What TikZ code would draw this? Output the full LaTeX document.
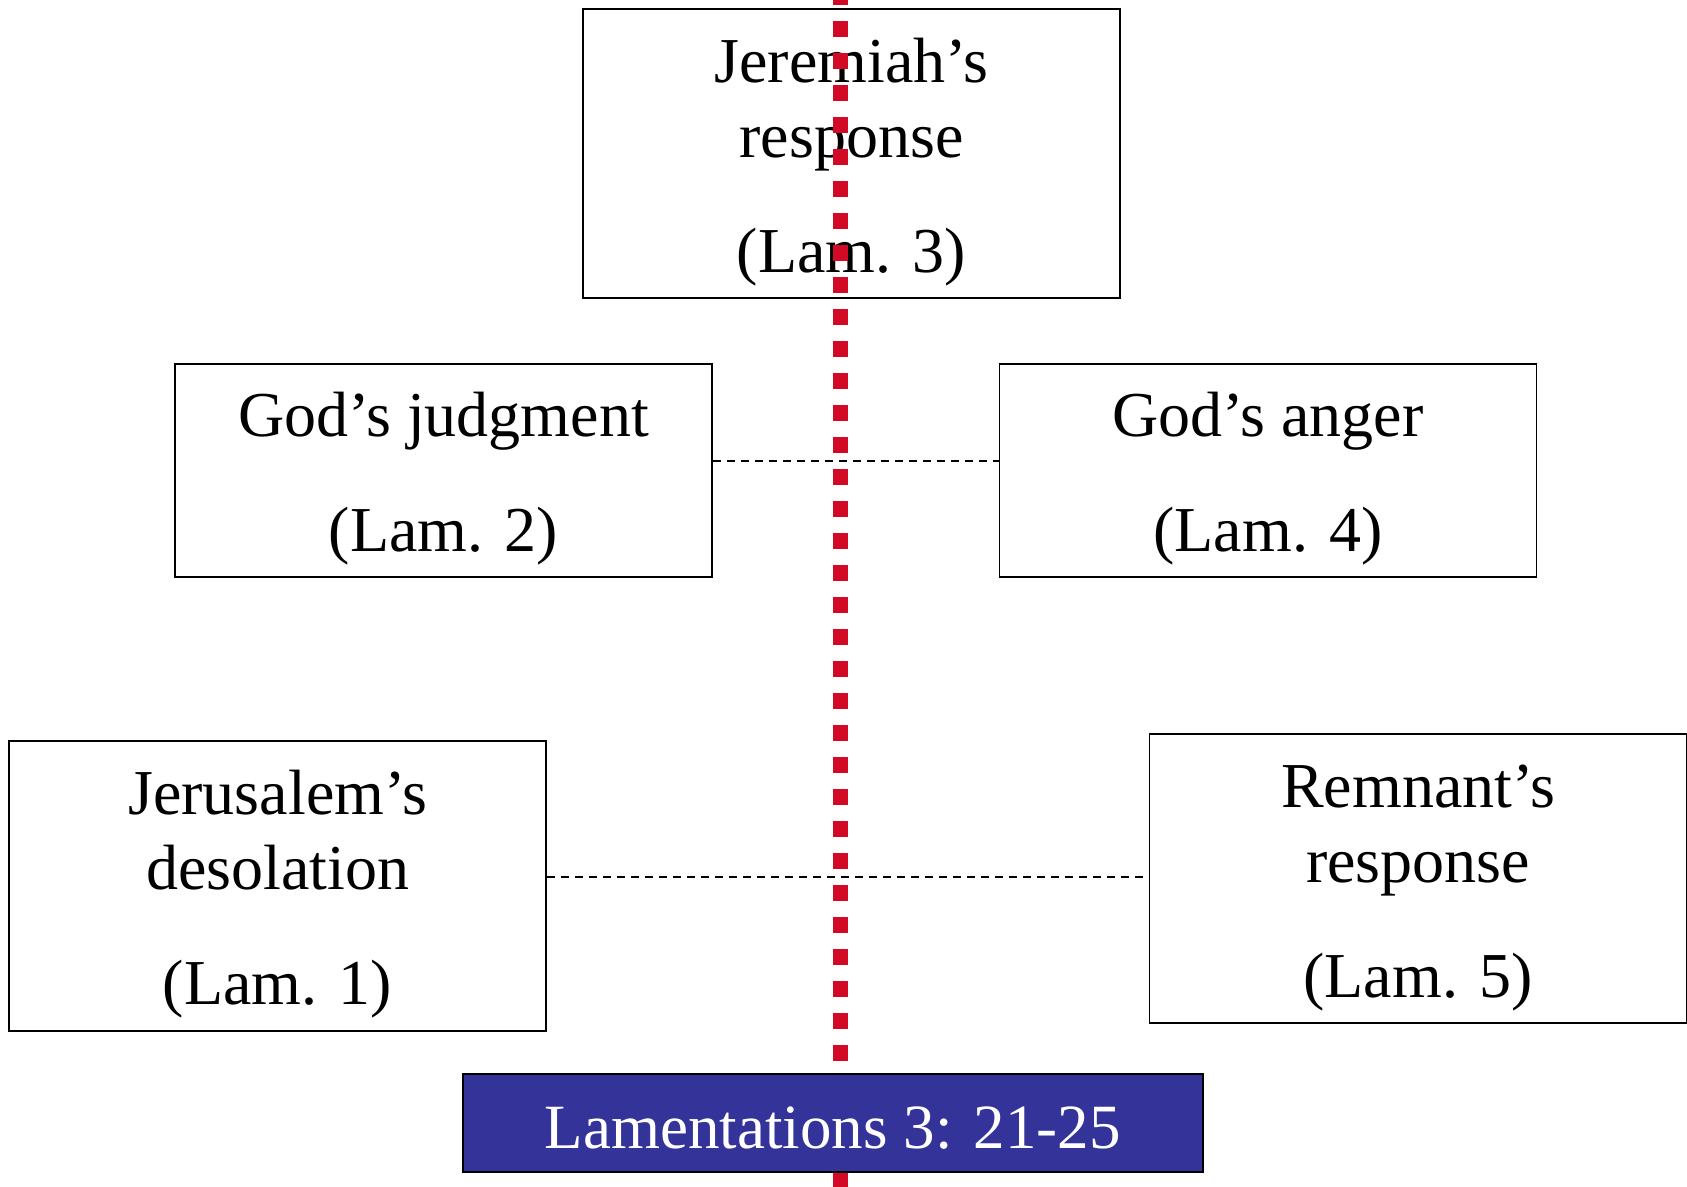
\documentclass[tikz,border=0pt]{standalone}
\usepackage{fontspec}
\setmainfont{Liberation Serif}
\definecolor{lamred}{RGB}{210,10,38}
\definecolor{lamblue}{RGB}{51,51,153}
\newcommand\lamtop{\rule{0pt}{30.6pt}}
\begin{document}
\begin{tikzpicture}[x=0.5pt,y=-0.5pt,
	chap/.style={draw,line width=0.9pt,fill=white,align=center,
		font=\fontsize{32}{37.5}\selectfont,minimum width=268.5pt,inner sep=0pt},
	keyref/.style={draw,line width=1pt,fill=lamblue,text=white,
		font=\fontsize{31.5}{37.5}\selectfont,text height=26pt,text depth=0pt,
		minimum width=370pt,minimum height=49pt,inner sep=0pt},
	pair/.style={line width=1pt,dash pattern=on 4pt off 3pt}]
	\useasboundingbox (0,0) rectangle (1687,1187);
	\foreach \x/\y/\h/\nm/\texn in {851.5/153.3/144.5/jer/{Jeremiah’s\\response\\[20pt](Lam. 3)},
		443.5/470.5/106.5/judg/{God’s judgment\\[20pt](Lam. 2)},
		1268/470.5/106.5/anger/{God’s anger\\[20pt](Lam. 4)},
		277.6/886/145/jrs/{Jerusalem’s\\desolation\\[20pt](Lam. 1)},
		1418/878.5/144.5/rem/{Remnant’s\\response\\[20pt](Lam. 5)}}
	\path (\x,\y) node[chap,minimum height=\h pt](\nm){\lamtop\texn};
	\draw[pair] ([yshift=4.5pt]judg.east)--([yshift=4.5pt]anger.west);
	\draw[pair] ([yshift=4.5pt]jrs.east)--([yshift=0.75pt]rem.west);
	% axis of the chiasm
	\coordinate (axtop) at (840.3,0);
	\coordinate (axbot) at (840.3,1187);
	\draw[lamred,line width=7.8pt,dash pattern=on 8pt off 8pt,dash phase=5.5pt]
	(axtop)--(axbot);
	\path (832.8,1122.7) node[keyref](key){Lamentations 3: 21-25};
\end{tikzpicture}
\end{document}
